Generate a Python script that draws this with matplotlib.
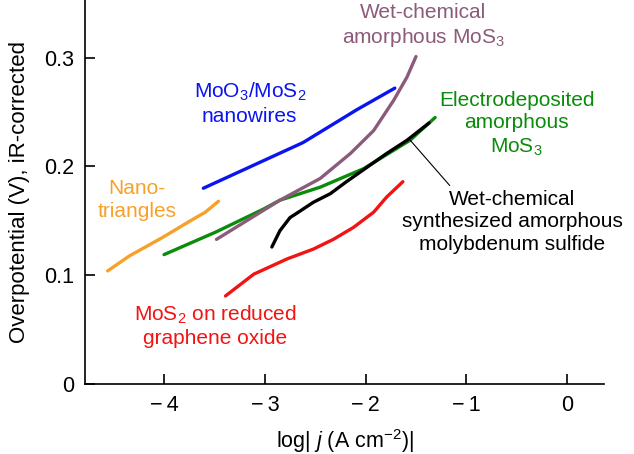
import numpy as np
import matplotlib
matplotlib.use('Agg')
import matplotlib.pyplot as plt

plt.rcParams['font.family'] = ['Liberation Sans', 'DejaVu Sans']
plt.rcParams['mathtext.fontset'] = 'custom'
plt.rcParams['mathtext.rm'] = 'Liberation Sans'
plt.rcParams['mathtext.it'] = 'Liberation Sans:italic'

# Tafel curves (log|j| vs overpotential)
nano_x = [-4.56, -4.34, -4.01, -3.74, -3.59, -3.46]
nano_y = [0.104, 0.118, 0.135, 0.150, 0.158, 0.168]

wires_x = [-3.61, -2.62, -2.09, -1.71]
wires_y = [0.180, 0.222, 0.252, 0.272]

electro_x = [-4.00, -3.48, -3.01, -2.85, -2.45, -2.02, -1.56, -1.31]
electro_y = [0.119, 0.140, 0.161, 0.169, 0.181, 0.198, 0.224, 0.245]

wetchem_x = [-3.48, -2.85, -2.45, -2.15, -1.92, -1.72, -1.59, -1.50]
wetchem_y = [0.133, 0.169, 0.189, 0.212, 0.233, 0.261, 0.282, 0.301]

synth_x = [-2.93, -2.85, -2.75, -2.65, -2.52, -2.35, -2.19, -1.99, -1.79, -1.59, -1.37]
synth_y = [0.126, 0.141, 0.153, 0.159, 0.167, 0.175, 0.186, 0.199, 0.212, 0.224, 0.240]

rgo_x = [-3.39, -3.11, -2.78, -2.52, -2.32, -2.12, -1.92, -1.79, -1.63]
rgo_y = [0.081, 0.101, 0.115, 0.124, 0.133, 0.144, 0.158, 0.172, 0.186]

orange = '#F7A02A'
blue = '#0A14F0'
green = '#0A8C0A'
purple = '#8C5A7A'
red = '#F01414'

fig = plt.figure(figsize=(6.34, 4.54), dpi=100)
ax = fig.add_axes([0.134, 0.154, 0.819, 0.846])

lw = 2.4
ax.plot(nano_x, nano_y, color=orange, lw=lw, solid_capstyle='round')
ax.plot(wires_x, wires_y, color=blue, lw=lw, solid_capstyle='round')
ax.plot(electro_x, electro_y, color=green, lw=lw, solid_capstyle='round')
ax.plot(wetchem_x, wetchem_y, color=purple, lw=lw, solid_capstyle='round')
ax.plot(synth_x, synth_y, color='black', lw=lw, solid_capstyle='round')
ax.plot(rgo_x, rgo_y, color=red, lw=lw, solid_capstyle='round')

fs = 15
ls = 1.25
ax.text(-1.43, 0.329, 'Wet-chemical\namorphous MoS$_3$', color=purple, fontsize=fs,
        ha='center', va='center', linespacing=ls)
ax.text(-3.15, 0.258, 'MoO$_3$/MoS$_2$\nnanowires', color=blue, fontsize=fs,
        ha='center', va='center', linespacing=ls)
ax.text(-0.50, 0.239, 'Electrodeposited\namorphous\nMoS$_3$', color=green, fontsize=fs,
        ha='center', va='center', linespacing=ls)
ax.text(-4.27, 0.169, 'Nano-\ntriangles', color=orange, fontsize=fs,
        ha='center', va='center', linespacing=ls)
ax.text(-0.545, 0.149, 'Wet-chemical\nsynthesized amorphous\nmolybdenum sulfide', color='black',
        fontsize=fs, ha='center', va='center', linespacing=ls)
ax.text(-3.49, 0.0535, 'MoS$_2$ on reduced\ngraphene oxide', color=red, fontsize=fs,
        ha='center', va='center', linespacing=ls)

ax.annotate('', xy=(-1.556, 0.224), xytext=(-1.165, 0.1825),
            arrowprops=dict(arrowstyle='-', color='black', lw=0.8, shrinkA=0, shrinkB=0))

ax.set_xlim(-4.785, 0.368)
ax.set_ylim(0, 0.353)
ax.set_xticks([-4, -3, -2, -1, 0])
ax.set_xticklabels(['\u2212\u20094', '\u2212\u20093', '\u2212\u20092', '\u2212\u20091', '0'])
ax.set_yticks([0, 0.1, 0.2, 0.3])
ax.set_yticklabels(['0', '0.1', '0.2', '0.3'])
ax.tick_params(direction='in', length=7, width=1.2, labelsize=15.5, pad=8)
ax.spines['top'].set_visible(False)
ax.spines['right'].set_visible(False)
ax.spines['left'].set_linewidth(1.2)
ax.spines['bottom'].set_linewidth(1.2)

ax.set_xlabel('log| $\\it{j}$ (A cm$^{\u2212 2}$)|', fontsize=15.5, labelpad=8)
ax.set_ylabel('Overpotential (V), iR-corrected', fontsize=16, labelpad=10)

fig.savefig('out.png', dpi=100)
